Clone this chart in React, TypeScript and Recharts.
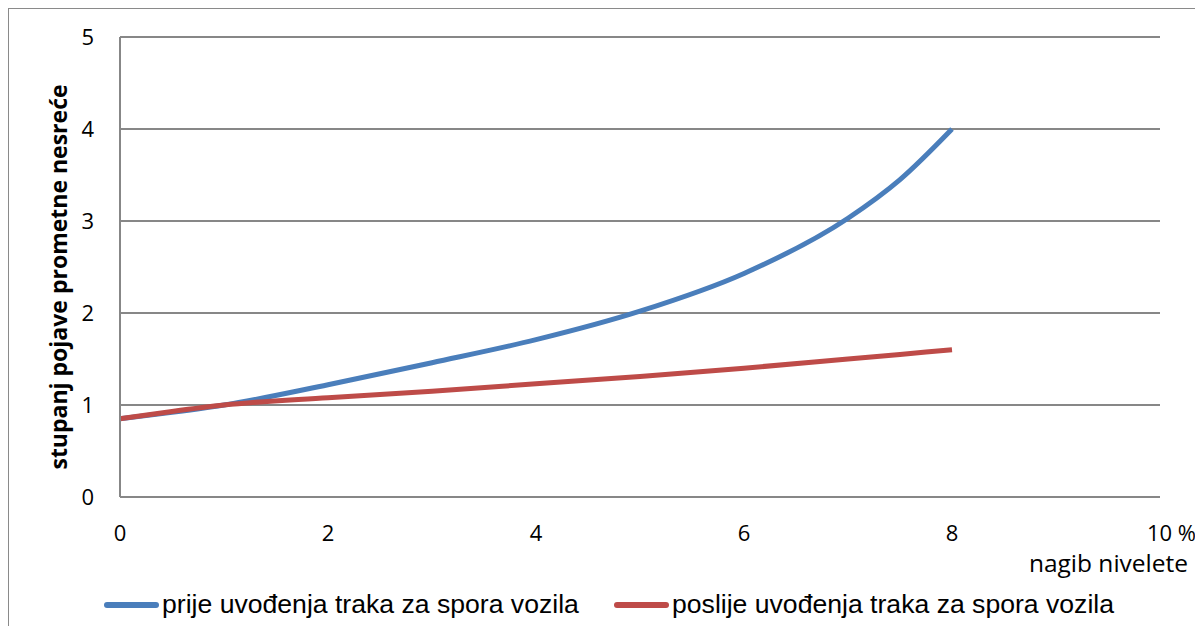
import { CartesianGrid, Line, LineChart, XAxis, YAxis } from "recharts";

const nagib = [0, 0.5, 1, 2, 3, 4, 5, 6, 7, 7.5, 8];
const prije = [0.85, 0.92, 1.0, 1.22, 1.46, 1.71, 2.02, 2.43, 3.03, 3.45, 4.0];
const poslije = [0.85, 0.93, 1.0, 1.08, 1.15, 1.23, 1.31, 1.4, 1.5, 1.55, 1.6];

const xTicks = [0, 2, 4, 6, 8, 10];
const yTicks = [0, 1, 2, 3, 4, 5];

const seriesNames = [
  "prije uvođenja traka za spora vozila",
  "poslije uvođenja traka za spora vozila",
];
const seriesColors = ["#4a7ebb", "#be4b48"];

const data = nagib.map((x, i) => ({ x, prije: prije[i], poslije: poslije[i] }));

const labelFont = "'Open Sans', sans-serif";
const gridColor = "#878787";

function XTick({ x, y, payload }: any) {
  const last = payload.value === 10;
  return (
    <text
      x={last ? x - 13 : x}
      y={y + 44}
      textAnchor={last ? "start" : "middle"}
      fontFamily={labelFont}
      fontSize={22}
      fill="#000"
    >
      {last ? "10 %" : payload.value}
    </text>
  );
}

function YTick({ x, y, payload }: any) {
  return (
    <text
      x={x}
      y={y}
      dy="0.36em"
      textAnchor="end"
      fontFamily={labelFont}
      fontSize={22}
      fill="#000"
    >
      {payload.value}
    </text>
  );
}

export default function App() {
  return (
    <div
      style={{
        position: "relative",
        margin: "-1px 0 0 -1px",
        width: 1189,
        height: 640,
        border: "2px solid #8a8a8a",
        borderBottom: "none",
        background: "#fff",
      }}
    >
      <LineChart
        width={1189}
        height={617}
        data={data}
        margin={{ top: 28, right: 38, left: 0, bottom: 0 }}
      >
        <CartesianGrid vertical={false} stroke={gridColor} strokeWidth={2} />
        <XAxis
          dataKey="x"
          type="number"
          domain={[0, 10]}
          ticks={xTicks}
          height={129}
          tickLine={false}
          tickSize={0}
          tickMargin={0}
          axisLine={{ stroke: gridColor, strokeWidth: 2 }}
          tick={<XTick />}
          label={{
            content: () => (
              <text
                x={1179}
                y={563}
                textAnchor="end"
                fontFamily={labelFont}
                fontSize={24.5}
                fill="#000"
              >
                nagib nivelete
              </text>
            ),
          }}
        />
        <YAxis
          type="number"
          domain={[0, 5]}
          ticks={yTicks}
          width={111}
          tickLine={false}
          tickSize={0}
          tickMargin={26}
          axisLine={{ stroke: gridColor, strokeWidth: 2 }}
          tick={<YTick />}
          label={{
            content: () => (
              <text
                x={49}
                y={268}
                transform="rotate(-90 49 268)"
                textAnchor="middle"
                dominantBaseline="central"
                fontFamily={labelFont}
                fontWeight="bold"
                fontSize={23}
                fill="#000"
              >
                stupanj pojave prometne nesreće
              </text>
            ),
          }}
        />
        <Line
          type="monotone"
          dataKey="prije"
          name={seriesNames[0]}
          stroke={seriesColors[0]}
          strokeWidth={5}
          dot={false}
          isAnimationActive={false}
        />
        <Line
          type="monotone"
          dataKey="poslije"
          name={seriesNames[1]}
          stroke={seriesColors[1]}
          strokeWidth={5}
          dot={false}
          isAnimationActive={false}
        />
      </LineChart>
      {seriesNames.map((name, i) => (
        <div
          key={name}
          style={{
            position: "absolute",
            left: i === 0 ? 95 : 605,
            top: 580,
            display: "flex",
            alignItems: "center",
            fontFamily: "'Liberation Sans', Arial, sans-serif",
            fontSize: 26.6,
            color: "#000",
            whiteSpace: "nowrap",
          }}
        >
          <span
            style={{
              display: "inline-block",
              width: 55,
              height: 6,
              borderRadius: 3,
              background: seriesColors[i],
              marginRight: 3,
            }}
          />
          {name}
        </div>
      ))}
    </div>
  );
}
